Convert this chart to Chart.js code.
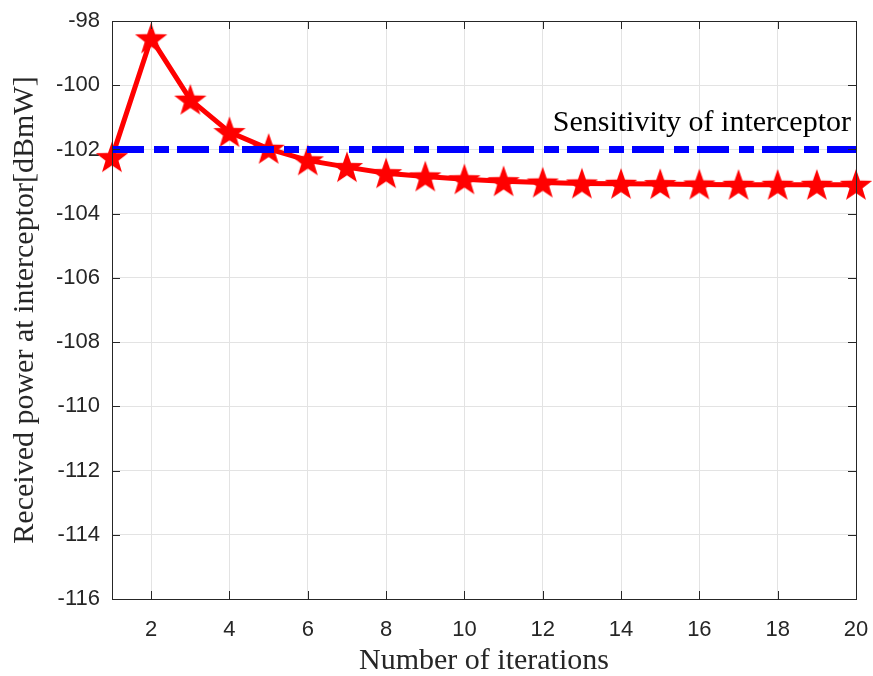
<!DOCTYPE html>
<html>
<head>
<meta charset="utf-8">
<script src="https://cdn.jsdelivr.net/npm/chart.js"></script>
<style>
  html, body { margin: 0; padding: 0; background: #fff; }
  #wrap { width: 873px; height: 676px; }
</style>
</head>
<body>
<div id="wrap"><canvas id="powerChart"></canvas></div>
<script>
/* === données === */
const iterations = [1, 2, 3, 4, 5, 6, 7, 8, 9, 10, 11, 12, 13, 14, 15, 16, 17, 18, 19, 20];
const receivedPower = [-102.24, -98.54, -100.45, -101.46, -101.98, -102.34, -102.55, -102.74,
  -102.84, -102.93, -102.99, -103.03, -103.06, -103.07, -103.08, -103.09, -103.1, -103.1, -103.1, -103.1];
const sensitivityLevel = -102;
const xTicks = [2, 4, 6, 8, 10, 12, 14, 16, 18, 20];
const yTicks = [-116, -114, -112, -110, -108, -106, -104, -102, -100, -98];
const sensitivityLabel = "Sensitivity of interceptor";

const serif = '"Liberation Serif", "Times New Roman", serif';
const sans = '"Liberation Sans", Arial, sans-serif';

// étoile pleine pour les marqueurs (le 'star' de Chart.js n'est pas rempli)
function makeStar(size, color) {
  const c = document.createElement("canvas");
  c.width = size; c.height = size;
  const g = c.getContext("2d");
  const cx = size / 2, cy = size / 2 + size * 0.04;
  const R = size / 2, r = R * 0.4;
  g.beginPath();
  for (let i = 0; i < 10; i++) {
    const rad = i % 2 === 0 ? R : r;
    const a = -Math.PI / 2 + i * Math.PI / 5;
    g.lineTo(cx + rad * Math.cos(a), cy + rad * Math.sin(a));
  }
  g.closePath();
  g.fillStyle = color;
  g.fill();
  return c;
}
const star = makeStar(34, "#ff0000");

// cadre noir + graduations vers l'intérieur (style matlab)
const boxPlugin = {
  id: "boxPlugin",
  afterDatasetsDraw(chart) {
    const { ctx, chartArea: a, scales } = chart;
    ctx.save();
    ctx.strokeStyle = "#262626";
    ctx.lineWidth = 1;
    ctx.strokeRect(a.left + 0.5, a.top + 0.5, a.right - a.left, a.bottom - a.top);
    ctx.beginPath();
    const len = 8;
    xTicks.forEach((v) => {
      const px = Math.round(scales.x.getPixelForValue(v)) + 0.5;
      ctx.moveTo(px, a.bottom); ctx.lineTo(px, a.bottom - len);
      ctx.moveTo(px, a.top); ctx.lineTo(px, a.top + len);
    });
    yTicks.forEach((v) => {
      const py = Math.round(scales.y.getPixelForValue(v)) + 0.5;
      ctx.moveTo(a.left, py); ctx.lineTo(a.left + len, py);
      ctx.moveTo(a.right, py); ctx.lineTo(a.right - len, py);
    });
    ctx.stroke();

    // légende de la ligne de sensibilité
    ctx.fillStyle = "#000";
    ctx.font = "30px " + serif;
    ctx.textAlign = "right";
    ctx.textBaseline = "alphabetic";
    ctx.fillText(sensitivityLabel, a.right - 5, scales.y.getPixelForValue(-101.42));
    ctx.restore();
  }
};

const ctx = document.getElementById("powerChart").getContext("2d");
new Chart(ctx, {
  type: "line",
  data: {
    datasets: [
      {
        label: "Sensitivity",
        data: [{ x: iterations[0], y: sensitivityLevel }, { x: iterations[iterations.length - 1], y: sensitivityLevel }],
        borderColor: "#0000ff",
        borderWidth: 7,
        borderDash: [32, 10, 15, 8],
        pointRadius: 0,
        clip: false
      },
      {
        label: "Received power",
        data: iterations.map((x, i) => ({ x, y: receivedPower[i] })),
        borderColor: "#ff0000",
        borderWidth: 5,
        pointStyle: star,
        pointRadius: 17,
        clip: false
      }
    ]
  },
  options: {
    responsive: true,
    maintainAspectRatio: false,
    animation: false,
    layout: { autoPadding: false, padding: { left: 0, right: 17, top: 21, bottom: 0 } },
    plugins: { legend: { display: false }, tooltip: { enabled: false } },
    scales: {
      x: {
        type: "linear",
        min: 1,
        max: 20,
        afterBuildTicks: (s) => { s.ticks = xTicks.map((v) => ({ value: v })); },
        afterFit: (s) => { s.height = 77; s.paddingLeft = 0; s.paddingRight = 0; },
        grid: { color: "#e3e3e3", drawTicks: false },
        border: { display: false },
        ticks: { color: "#262626", padding: 18, font: { family: sans, size: 22 } },
        title: {
          display: true,
          text: "Number of iterations",
          color: "#262626",
          padding: { top: 0, bottom: 0 },
          font: { family: serif, size: 30, lineHeight: 1 }
        }
      },
      y: {
        type: "linear",
        min: -116,
        max: -98,
        afterBuildTicks: (s) => { s.ticks = yTicks.map((v) => ({ value: v })); },
        afterFit: (s) => { s.width = 112; s.paddingTop = 0; s.paddingBottom = 0; },
        grid: { color: "#e3e3e3", drawTicks: false },
        border: { display: false },
        ticks: { color: "#262626", padding: 12, font: { family: sans, size: 22 } },
        title: {
          display: true,
          text: "Received power at interceptor[dBmW]",
          color: "#262626",
          padding: { top: 10, bottom: 0 },
          font: { family: serif, size: 30, lineHeight: 1 }
        }
      }
    }
  },
  plugins: [boxPlugin]
});
</script>
</body>
</html>
